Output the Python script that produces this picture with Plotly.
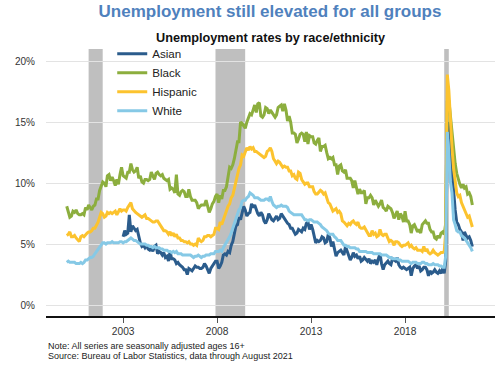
import pandas as pd
import plotly.graph_objects as go

# ---------------- data (monthly, %) ----------------
series_start = "2000-01-01"
asian_start = "2003-01-01"

white = [
    3.5, 3.6, 3.5, 3.5, 3.5, 3.5, 3.4, 3.4, 3.4, 3.5, 3.4, 3.5,
    3.7, 3.7, 3.8, 3.9, 3.9, 4.0, 4.2, 4.4, 4.5, 4.8, 5.0, 5.1,
    5.1, 5.0, 5.1, 5.1, 5.1, 5.2, 5.1, 5.1, 5.1, 5.1, 5.2, 5.2,
    5.1, 5.2, 5.2, 5.3, 5.4, 5.5, 5.4, 5.3, 5.3, 5.2, 5.1, 5.0,
    5.0, 5.0, 5.0, 4.9, 4.9, 4.8, 4.8, 4.7, 4.8, 4.7, 4.7, 4.7,
    4.6, 4.6, 4.5, 4.5, 4.5, 4.4, 4.4, 4.3, 4.4, 4.3, 4.4, 4.2,
    4.2, 4.2, 4.1, 4.1, 4.1, 4.1, 4.1, 4.1, 4.0, 3.9, 4.0, 4.0,
    4.1, 4.0, 3.9, 4.0, 4.0, 4.1, 4.1, 4.1, 4.2, 4.2, 4.2, 4.4,
    4.4, 4.4, 4.5, 4.4, 4.7, 4.9, 5.1, 5.4, 5.6, 5.9, 6.3, 6.6,
    7.0, 7.4, 7.8, 8.0, 8.5, 8.6, 8.6, 8.8, 8.9, 9.2, 9.1, 9.0,
    8.8, 8.8, 8.8, 8.7, 8.6, 8.6, 8.6, 8.7, 8.7, 8.6, 8.9, 8.5,
    8.2, 8.1, 8.0, 8.1, 8.1, 8.2, 8.1, 8.1, 8.1, 8.0, 7.7, 7.6,
    7.5, 7.4, 7.4, 7.4, 7.4, 7.4, 7.4, 7.2, 7.0, 7.0, 6.9, 7.0,
    7.0, 6.9, 6.8, 6.8, 6.8, 6.7, 6.6, 6.4, 6.3, 6.2, 6.1, 5.9,
    5.8, 5.8, 5.8, 5.6, 5.5, 5.3, 5.3, 5.3, 5.1, 4.9, 4.9, 4.8,
    4.8, 4.7, 4.7, 4.7, 4.7, 4.6, 4.6, 4.4, 4.4, 4.4, 4.4, 4.4,
    4.3, 4.3, 4.3, 4.3, 4.2, 4.2, 4.2, 4.2, 4.2, 4.1, 4.1, 4.1,
    4.1, 4.0, 3.9, 3.9, 3.8, 3.8, 3.8, 3.8, 3.7, 3.7, 3.6, 3.6,
    3.6, 3.6, 3.6, 3.5, 3.4, 3.5, 3.5, 3.5, 3.4, 3.4, 3.4, 3.5,
    3.5, 3.4, 3.4, 3.3, 3.3, 3.3, 3.4, 3.3, 3.3, 3.3, 3.2, 3.2,
    3.1, 3.1, 4.0, 14.2, 12.4, 10.1, 9.2, 7.0, 6.6, 6.1, 6.0, 6.0,
    5.7, 5.6, 5.5, 5.3, 5.1, 5.0, 4.7, 4.4,
]

black = [
    8.1, 7.7, 7.2, 7.3, 7.7, 7.6, 7.8, 7.5, 7.4, 7.4, 7.5, 7.4,
    8.0, 7.8, 8.2, 8.0, 7.8, 8.1, 8.2, 8.7, 8.7, 9.4, 9.8, 10.1,
    10.0, 9.7, 10.6, 10.7, 10.2, 10.5, 10.2, 9.8, 10.3, 9.9, 10.7, 11.3,
    10.6, 10.5, 10.4, 10.9, 10.9, 11.6, 11.1, 10.9, 11.0, 11.3, 10.4, 10.6,
    10.1, 10.0, 10.3, 10.3, 10.2, 10.3, 10.9, 10.6, 10.3, 10.8, 10.9, 10.7,
    10.6, 10.7, 10.4, 10.3, 10.2, 10.3, 9.5, 9.6, 9.5, 9.2, 10.7, 9.1,
    9.0, 9.3, 9.4, 9.3, 8.9, 8.9, 9.5, 8.9, 8.6, 8.6, 8.6, 8.4,
    7.9, 8.1, 8.2, 8.2, 8.2, 8.6, 8.0, 7.6, 7.9, 8.3, 8.5, 8.9,
    9.1, 8.4, 9.0, 8.7, 9.4, 9.4, 9.7, 10.5, 11.3, 11.2, 11.5, 12.0,
    12.7, 13.4, 13.4, 15.0, 14.9, 14.7, 14.5, 15.0, 15.4, 15.7, 15.6, 16.0,
    16.4, 15.8, 16.5, 16.6, 15.5, 15.4, 15.6, 16.2, 16.1, 15.7, 16.0, 15.8,
    15.6, 15.4, 15.6, 16.2, 16.3, 16.4, 15.9, 16.5, 16.0, 15.1, 15.5, 15.0,
    14.1, 14.1, 14.0, 13.3, 13.6, 14.0, 14.1, 14.0, 13.4, 14.2, 13.2, 13.9,
    13.8, 13.8, 13.3, 13.2, 13.5, 13.7, 12.6, 13.0, 13.0, 13.1, 12.5, 12.0,
    12.1, 12.0, 12.1, 11.5, 11.5, 10.7, 11.4, 11.5, 11.0, 10.9, 11.1, 10.4,
    10.4, 10.4, 10.2, 9.6, 10.2, 9.5, 9.1, 9.5, 9.2, 9.2, 9.4, 8.3,
    8.8, 8.8, 9.0, 8.8, 8.2, 8.6, 8.4, 8.1, 8.3, 8.6, 8.0, 7.9,
    7.7, 8.1, 8.0, 7.9, 7.6, 7.1, 7.4, 7.7, 7.0, 7.5, 7.3, 6.8,
    7.7, 6.9, 6.9, 6.6, 5.9, 6.5, 6.6, 6.3, 6.0, 6.2, 5.9, 6.6,
    6.8, 6.9, 6.7, 6.7, 6.2, 6.0, 6.0, 5.5, 5.4, 5.7, 5.5, 5.9,
    6.0, 5.8, 6.7, 16.7, 16.8, 15.4, 14.6, 13.0, 11.6, 10.8, 10.3, 9.9,
    9.6, 9.9, 9.6, 9.7, 9.1, 9.2, 8.9, 8.2,
]

hispanic = [
    5.7, 5.8, 6.0, 5.6, 5.6, 5.7, 5.5, 5.3, 5.2, 5.6, 5.7, 5.6,
    5.8, 5.9, 6.0, 6.0, 6.1, 6.3, 6.3, 6.5, 6.8, 7.2, 7.6, 7.5,
    7.2, 7.3, 7.6, 7.5, 7.6, 7.5, 7.6, 7.7, 7.4, 7.7, 7.9, 7.7,
    7.8, 7.8, 7.7, 8.0, 8.2, 8.4, 7.9, 7.7, 7.6, 7.5, 7.4, 7.3,
    7.2, 7.3, 7.4, 7.1, 7.1, 7.0, 6.9, 6.8, 6.8, 6.9, 6.9, 6.7,
    6.6, 6.4, 6.1, 6.1, 6.0, 5.8, 6.0, 5.7, 5.9, 5.6, 5.8, 5.5,
    5.5, 5.3, 5.3, 5.2, 5.2, 5.1, 5.2, 5.0, 5.0, 4.9, 5.0, 4.9,
    5.5, 5.3, 5.2, 5.3, 5.6, 5.6, 5.7, 5.7, 5.6, 5.7, 5.8, 6.3,
    6.3, 6.2, 6.8, 6.6, 7.0, 7.4, 7.8, 8.1, 8.3, 8.8, 9.0, 9.6,
    10.1, 10.8, 11.2, 11.5, 12.3, 12.2, 12.5, 12.9, 12.7, 13.0, 12.8, 12.9,
    12.6, 12.6, 12.5, 12.4, 12.3, 12.2, 12.1, 12.2, 12.6, 12.7, 12.9, 12.6,
    12.0, 11.8, 11.6, 11.8, 11.7, 11.5, 11.3, 11.4, 11.3, 11.3, 11.0, 11.0,
    10.6, 10.7, 10.4, 10.3, 10.9, 10.8, 10.3, 10.1, 9.9, 10.0, 10.0, 9.7,
    9.7, 9.7, 9.3, 9.1, 9.1, 9.3, 9.4, 9.3, 9.1, 9.2, 8.8, 8.4,
    8.3, 7.9, 7.7, 7.8, 7.9, 7.6, 7.7, 7.5, 6.9, 6.8, 6.6, 6.5,
    6.7, 6.6, 6.8, 6.9, 6.7, 6.6, 6.8, 6.4, 6.3, 6.3, 6.4, 6.2,
    5.9, 5.7, 5.7, 6.1, 5.8, 5.9, 5.6, 5.7, 6.2, 5.8, 5.7, 5.8,
    5.8, 5.5, 5.2, 5.3, 5.2, 4.9, 5.2, 5.2, 5.1, 4.9, 4.8, 4.9,
    4.9, 5.0, 5.1, 4.8, 4.9, 4.7, 4.6, 4.7, 4.5, 4.5, 4.5, 4.4,
    4.8, 4.4, 4.6, 4.3, 4.2, 4.3, 4.5, 4.3, 4.2, 4.1, 4.2, 4.3,
    4.3, 4.4, 6.0, 18.9, 17.6, 14.5, 12.9, 11.2, 10.3, 9.2, 8.9, 9.0,
    8.4, 8.1, 7.9, 7.6, 7.2, 7.3, 6.8, 6.4,
]

asian = [
    5.6, 6.1, 5.8, 5.9, 7.4, 6.0, 6.5, 6.3, 6.1, 6.2, 5.6, 5.1,
    4.8, 4.9, 4.7, 4.9, 4.6, 4.5, 4.7, 4.4, 4.8, 4.9, 4.2, 4.4,
    4.3, 4.1, 4.3, 3.9, 4.0, 3.6, 4.4, 3.8, 3.8, 3.7, 3.4, 3.5,
    3.3, 3.2, 3.1, 2.9, 2.9, 2.5, 3.0, 2.9, 2.8, 3.0, 3.2, 3.1,
    3.1, 3.0, 3.0, 3.1, 3.4, 3.2, 2.9, 2.6, 3.0, 3.2, 3.3, 3.6,
    3.6, 3.0, 3.2, 3.5, 4.1, 4.2, 4.1, 4.4, 4.3, 4.9, 5.2, 5.9,
    6.5, 6.6, 7.2, 7.0, 7.6, 8.1, 7.8, 7.3, 7.5, 7.6, 8.3, 8.0,
    8.2, 7.8, 7.5, 7.3, 7.6, 7.4, 6.9, 6.7, 7.0, 7.5, 7.2, 7.0,
    6.9, 7.1, 7.3, 7.0, 7.1, 7.5, 7.3, 7.2, 6.9, 6.7, 6.6, 6.3,
    6.3, 6.0, 5.8, 5.9, 6.2, 6.1, 6.0, 6.3, 6.2, 6.7, 6.8, 6.2,
    6.6, 6.2, 5.6, 5.1, 5.3, 5.2, 5.3, 5.6, 5.5, 5.1, 5.2, 5.8,
    5.5, 4.8, 5.2, 4.7, 4.0, 4.3, 4.4, 4.5, 4.3, 4.1, 4.8, 4.4,
    4.0, 3.7, 3.9, 4.3, 4.0, 4.1, 3.8, 4.0, 3.6, 3.7, 3.9, 3.7,
    3.6, 3.8, 3.4, 3.6, 3.5, 3.7, 3.3, 3.8, 4.2, 3.4, 2.9, 3.3,
    3.5, 3.6, 3.4, 3.3, 3.8, 3.7, 3.6, 3.9, 3.3, 3.1, 3.0, 3.1,
    3.0, 2.9, 3.0, 3.1, 2.4, 3.0, 3.2, 3.3, 3.0, 3.2, 2.8, 2.9,
    3.1, 3.1, 2.9, 2.4, 2.8, 2.6, 2.7, 2.9, 2.7, 2.6, 2.8, 2.6,
    3.0, 2.6, 3.6, 14.5, 15.0, 13.8, 11.0, 9.0, 7.8, 6.8, 6.6, 6.2,
    6.0, 5.3, 6.0, 5.7, 5.5, 5.6, 5.3, 4.8,
]

series_names = ["Asian", "Black", "Hispanic", "White"]
series_colors = ["#2b5c8c", "#8cae3e", "#fcc32e", "#86c9e6"]

recession_starts = ["2001-03-01", "2007-12-01", "2020-02-01"]
recession_ends = ["2001-11-30", "2009-06-30", "2020-04-30"]

y_tick_vals = [0, 5, 10, 15, 20]
y_tick_text = ["0%", "5%", "10%", "15%", "20%"]
x_tick_vals = ["2003-01-01", "2008-01-01", "2013-01-01", "2018-01-01"]
x_tick_text = ["2003", "2008", "2013", "2018"]

title_text = "Unemployment still elevated for all groups"
subtitle_text = "Unemployment rates by race/ethnicity"
note_text = "Note: All series are seasonally adjusted ages 16+"
source_text = "Source: Bureau of Labor Statistics, data through August 2021"

# ---------------- figure ----------------
FONT = "Liberation Sans, Arial, sans-serif"

dates_main = pd.date_range(series_start, periods=len(white), freq="MS")
dates_asian = pd.date_range(asian_start, periods=len(asian), freq="MS")

data_map = {
    "Asian": (dates_asian, asian),
    "Black": (dates_main, black),
    "Hispanic": (dates_main, hispanic),
    "White": (dates_main, white),
}

fig = go.Figure()
for name, color in zip(series_names, series_colors):
    xs, ys = data_map[name]
    fig.add_trace(go.Scatter(
        x=xs, y=ys, mode="lines", name=name,
        line=dict(color=color, width=3),
    ))

for s, e in zip(recession_starts, recession_ends):
    fig.add_shape(type="rect", xref="x", yref="paper", x0=s, x1=e, y0=0, y1=1,
                  fillcolor="#bfbfbf", line=dict(width=0), layer="below")

fig.update_layout(
    width=500, height=365,
    margin=dict(l=46, r=5, t=49, b=49),
    paper_bgcolor="white", plot_bgcolor="white",
    font=dict(family=FONT, size=10, color="#333333"),
    title=dict(text="<b>" + title_text + "</b>", x=0.54, xanchor="center",
               y=1 - 11.5 / 365, yanchor="middle", yref="container",
               font=dict(family=FONT, size=17, color="#4f81bd")),
    showlegend=True,
    legend=dict(x=0.1475, y=1.0365, xanchor="left", yanchor="top",
                bgcolor="rgba(0,0,0,0)", font=dict(family=FONT, size=11.6, color="#222222"),
                itemwidth=30, tracegroupgap=0),
    xaxis=dict(type="date", range=["1998-11-24", "2022-10-15"],
               tickvals=x_tick_vals, ticktext=x_tick_text,
               showgrid=False, zeroline=False,
               showline=True, linecolor="#111111", linewidth=1.6,
               ticks="outside", ticklen=5, tickcolor="#555555", tickwidth=1,
               tickfont=dict(family=FONT, size=10.2, color="#333333")),
    yaxis=dict(range=[-0.9, 21.0], tickvals=y_tick_vals, ticktext=y_tick_text,
               showgrid=True, gridcolor="#e3e3e3", gridwidth=1,
               zeroline=False, showline=False, ticks="",
               ticklabelstandoff=10,
               tickfont=dict(family=FONT, size=10, color="#333333")),
    annotations=[
        dict(text="<b>" + subtitle_text + "</b>", xref="paper", yref="paper",
             x=0.5, y=1 + 11 / 267, xanchor="center", yanchor="middle",
             showarrow=False, font=dict(family=FONT, size=12.7, color="#111111")),
        dict(text=note_text, xref="paper", yref="paper",
             x=0, y=-(345.5 - 316) / 267, xanchor="left", yanchor="middle",
             showarrow=False, font=dict(family=FONT, size=9, color="#222222")),
        dict(text=source_text, xref="paper", yref="paper",
             x=0, y=-(355.5 - 316) / 267, xanchor="left", yanchor="middle",
             showarrow=False, font=dict(family=FONT, size=9, color="#222222")),
    ],
)

# remove the browser's default 8px body margin so the 500x365 figure fills the window
fig.write_html("out.html", config={"displayModeBar": False},
               post_script="document.body.style.margin='0px';")
